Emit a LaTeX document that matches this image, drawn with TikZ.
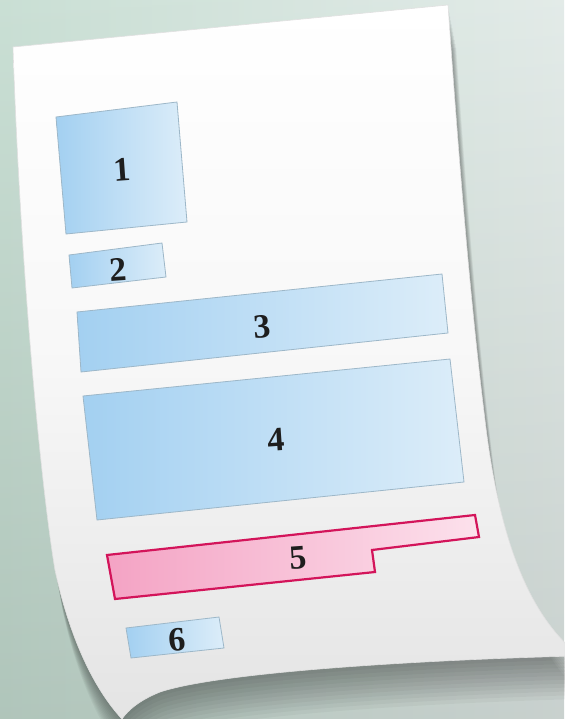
\documentclass[tikz,border=0pt]{standalone}
\usepackage{fontspec}
\setmainfont{Liberation Serif}
\definecolor{bgL}{HTML}{C4DCD0}
\definecolor{bgR}{HTML}{E0E9E6}
\definecolor{blA}{HTML}{A3D0F1}
\definecolor{blB}{HTML}{DCEDF9}
\definecolor{blEdge}{HTML}{9DB7C8}
\definecolor{pkA}{HTML}{F4A3C4}
\definecolor{pkB}{HTML}{FCE1EC}
\definecolor{pkEdge}{HTML}{D3145A}
\definecolor{paperBot}{HTML}{E4E4E4}
\definecolor{txt}{HTML}{1E1E1E}
\newcommand{\paperpath}{(13,47) -- (448,5) .. controls (458,150) and (470,300) .. (485,420) .. controls (498,530) and (525,610) .. (575,652) -- (575,656) .. controls (420,660) and (220,672) .. (160,692) .. controls (140,700) and (128,710) .. (122,719) .. controls (95,690) and (70,640) .. (55,570) .. controls (40,480) and (20,260) .. (13,47) -- cycle}
\tikzset{
  bluebox/.style={left color=blA, right color=blB, draw=blEdge, line width=0.8pt},
  pinkbox/.style={left color=pkA, right color=pkB, draw=pkEdge, line width=2.2pt, line join=miter},
  lbl/.style={text=txt, font=\fontsize{34}{34}\selectfont\bfseries, inner sep=0pt, rotate=4}
}
\begin{document}
\begin{tikzpicture}[x=1pt,y=-1pt]
\useasboundingbox (0,0) rectangle (564,719);
% background
\shade[left color=bgL, right color=bgR] (0,0) rectangle (564,719);
\shade[top color=white, bottom color=black, opacity=0.1] (0,0) rectangle (564,719);
% shadow of the paper
\foreach \d in {3,6,...,33} {
  \fill[black, opacity=0.035, shift={(0.25*\d,1.3*\d)}] \paperpath;
}
% paper
\shade[top color=white, bottom color=paperBot, middle color=white!97!black, draw=black!12, line width=0.6pt] \paperpath;
% boxes
\path[bluebox] (56,117) -- (177,102) -- (187,222) -- (66,234) -- cycle;
\path[bluebox] (69,255) -- (162,243) -- (166,277) -- (72,288) -- cycle;
\path[bluebox] (77,312) -- (442,274) -- (448,333) -- (81,372) -- cycle;
\path[bluebox] (83,396) -- (450,359) -- (464,482) -- (97,520) -- cycle;
\path[pinkbox] (107,555) -- (475,515) -- (479,537) -- (372,550) -- (375,572) -- (115,599) -- cycle;
\path[bluebox] (126,628) -- (219,617) -- (224,648) -- (131,658) -- cycle;
% labels
\node[lbl] (n1) at (122,170) {1};
\node[lbl] (n2) at (118,270) {2};
\node[lbl] (n3) at (262,327) {3};
\node[lbl] (n4) at (276,440) {4};
\node[lbl] (n5) at (298,558) {5};
\node[lbl] (n6) at (177,640) {6};
\end{tikzpicture}
\end{document}
